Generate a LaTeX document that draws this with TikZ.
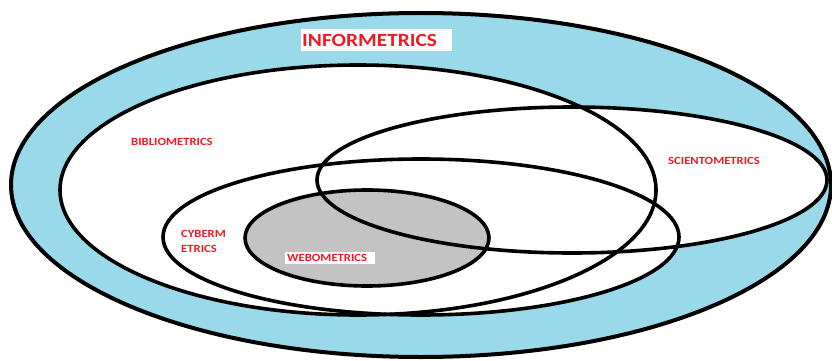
\documentclass[tikz,border=0pt]{standalone}
\usepackage{fontspec}
\setmainfont{Carlito}
\newfontfamily\widefont[FakeStretch=1.15]{Carlito}
\definecolor{skyb}{HTML}{99D9EA}
\definecolor{webg}{HTML}{C3C3C3}
\definecolor{labred}{HTML}{ED1C24}
\begin{document}
\begin{tikzpicture}[x=1pt,y=-1pt,
  ring/.style={line width=3.6pt},
  lab/.style={text=labred,font=\widefont\bfseries\fontsize{11}{13}\selectfont,inner sep=0pt}]
\useasboundingbox (0,0) rectangle (832,361);
% fills
\fill[skyb] (421,185) ellipse [x radius=410, y radius=172];
\fill[white] (358,190) ellipse [x radius=298, y radius=125];
\fill[white] (572,180) ellipse [x radius=255, y radius=73];
\fill[white] (421,237) ellipse [x radius=258, y radius=78];
\fill[webg] (367,238) ellipse [x radius=122, y radius=48];
% outlines
\draw[ring,line width=4pt] (421,185) ellipse [x radius=410, y radius=172];
\draw[ring] (358,190) ellipse [x radius=298, y radius=125];
\draw[ring] (421,237) ellipse [x radius=258, y radius=78];
\draw[ring] (367,238) ellipse [x radius=122, y radius=48];
\draw[ring] (572,180) ellipse [x radius=255, y radius=73];
% labels
\node[fill=white,minimum width=151pt,minimum height=22pt,inner sep=0pt] (info) at (376.5,40) {};
\node[text=labred,font=\widefont\bfseries\fontsize{18.6}{22}\selectfont,inner sep=0pt,anchor=west] (infot) at (302,40) {INFORMETRICS};
\node[lab,anchor=west] (bib) at (131,142) {BIBLIOMETRICS};
\node[lab,anchor=west] (sci) at (668,161) {SCIENTOMETRICS};
\node[lab,anchor=west] (cyb1) at (181,234) {CYBERM};
\node[lab,anchor=west] (cyb2) at (181,249) {ETRICS};
\node[fill=white,minimum width=90pt,minimum height=12pt,inner sep=0pt] (webbox) at (330,258) {};
\node[lab,anchor=west] (web) at (287,258) {WEBOMETRICS};
\end{tikzpicture}
\end{document}
